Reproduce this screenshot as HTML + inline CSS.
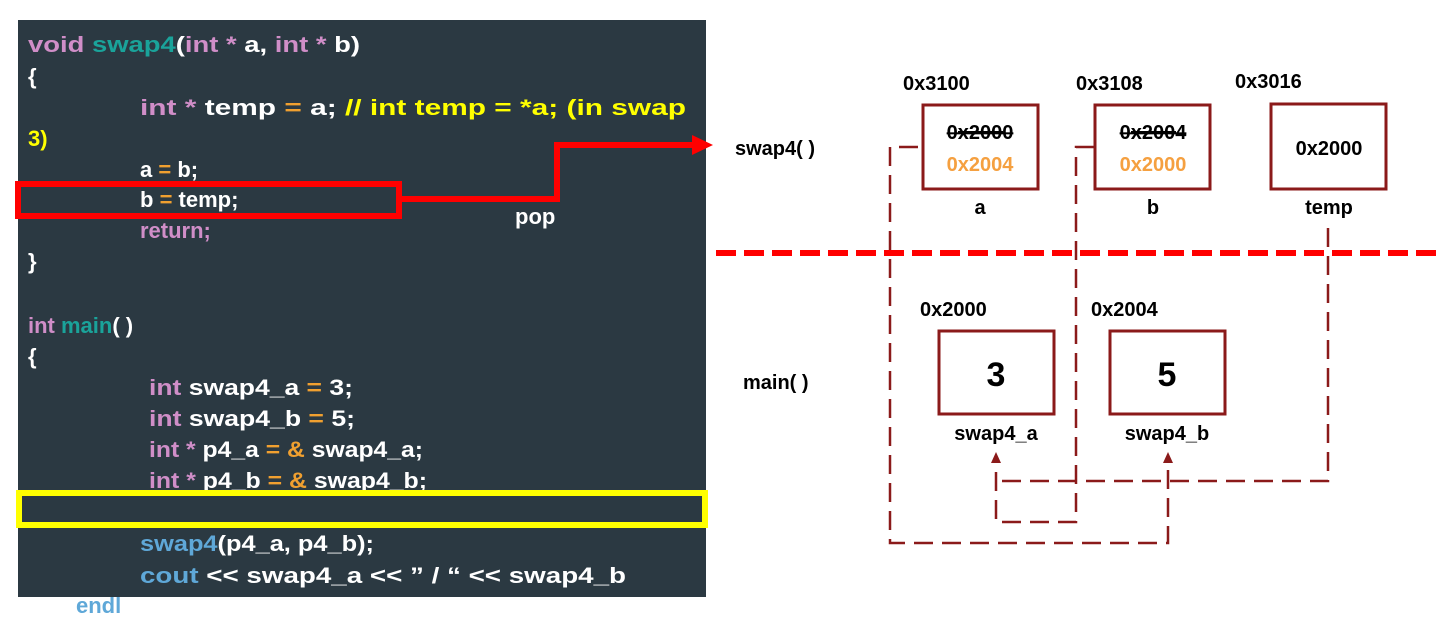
<!DOCTYPE html>
<html><head><meta charset="utf-8"><style>
html,body{margin:0;padding:0;background:#fff;}
svg{display:block;}
.c{font-family:"Liberation Sans","Noto Sans CJK KR",sans-serif;font-size:22px;font-weight:bold;}
.d{font-family:"Liberation Sans","Noto Sans CJK KR",sans-serif;font-weight:bold;fill:#000;}
</style></head><body>
<svg width="1443" height="621" viewBox="0 0 1443 621" xmlns="http://www.w3.org/2000/svg">
<rect x="18" y="20" width="688" height="577" fill="#2b3942"/>
<g class="c" fill="#fff">
<text x="28" y="52" textLength="332" lengthAdjust="spacingAndGlyphs"><tspan fill="#d08ec8">void </tspan><tspan fill="#1aa39a">swap4</tspan>(<tspan fill="#d08ec8">int * </tspan>a, <tspan fill="#d08ec8">int * </tspan>b)</text>
<text x="28" y="84">{</text>
<text x="140" y="115" textLength="546" lengthAdjust="spacingAndGlyphs"><tspan fill="#d08ec8">int * </tspan>temp <tspan fill="#f0a030">=</tspan> a;    <tspan fill="#ffff00">// int temp = *a; (in swap</tspan></text>
<text x="28" y="146" fill="#ffff00">3)</text>
<text x="140" y="177">a <tspan fill="#f0a030">=</tspan> b;</text>
<text x="140" y="207">b <tspan fill="#f0a030">=</tspan> temp;</text>
<text x="140" y="238" fill="#d08ec8">return;</text>
<text x="28" y="269">}</text>
<text x="28" y="333"><tspan fill="#d08ec8">int </tspan><tspan fill="#1aa39a">main</tspan>( )</text>
<text x="28" y="364">{</text>
<text x="149" y="395" textLength="204" lengthAdjust="spacingAndGlyphs"><tspan fill="#d08ec8">int </tspan>swap4_a <tspan fill="#f0a030">=</tspan> 3;</text>
<text x="149" y="426" textLength="206" lengthAdjust="spacingAndGlyphs"><tspan fill="#d08ec8">int </tspan>swap4_b <tspan fill="#f0a030">=</tspan> 5;</text>
<text x="149" y="457" textLength="274" lengthAdjust="spacingAndGlyphs"><tspan fill="#d08ec8">int * </tspan>p4_a <tspan fill="#f0a030">= &amp;</tspan> swap4_a;</text>
<text x="149" y="488" textLength="278" lengthAdjust="spacingAndGlyphs"><tspan fill="#d08ec8">int * </tspan>p4_b <tspan fill="#f0a030">= &amp;</tspan> swap4_b;</text>
<text x="140" y="551" textLength="234" lengthAdjust="spacingAndGlyphs"><tspan fill="#5fa8d8">swap4</tspan>(p4_a, p4_b);</text>
<text x="140" y="583" textLength="486" lengthAdjust="spacingAndGlyphs"><tspan fill="#5fa8d8">cout</tspan> &lt;&lt; swap4_a &lt;&lt; ” / “ &lt;&lt; swap4_b</text>
<text x="76" y="613" fill="#5fa8d8">endl</text>
</g>
<rect x="19" y="493" width="686" height="32" fill="none" stroke="#ffff00" stroke-width="6"/>
<rect x="18" y="184" width="381" height="32" fill="none" stroke="#ff0000" stroke-width="6"/>
<polyline points="399,199 557,199 557,145 693,145" fill="none" stroke="#ff0000" stroke-width="6"/>
<polygon points="692,135 713,145 692,155" fill="#ff0000"/>
<text x="515" y="224" class="c" fill="#fff" font-size="20">pop</text>

<line x1="716" y1="253" x2="1443" y2="253" stroke="#ff0000" stroke-width="6" stroke-dasharray="20,8"/>

<g fill="none" stroke="#8b1a1a" stroke-width="3">
<rect x="923" y="105" width="115" height="84"/>
<rect x="1095" y="105" width="115" height="84"/>
<rect x="1271" y="104" width="115" height="85"/>
<rect x="939" y="331" width="115" height="83"/>
<rect x="1110" y="331" width="115" height="83"/>
</g>
<g fill="none" stroke="#8b1a1a" stroke-width="2.5" stroke-dasharray="19,9">
<polyline points="918,147 890,147 890,543 1168,543 1168,462"/>
<polyline points="1094,147 1076,147 1076,522 996,522 996,462"/>
<polyline points="1328,228 1328,481 996,481"/>
</g>
<polygon points="996,452 991,463 1001,463" fill="#8b1a1a"/>
<polygon points="1168,452 1163,463 1173,463" fill="#8b1a1a"/>

<g class="d" font-size="20">
<text x="903" y="90">0x3100</text>
<text x="1076" y="90">0x3108</text>
<text x="1235" y="88">0x3016</text>
<text x="920" y="316">0x2000</text>
<text x="1091" y="316">0x2004</text>
<text x="735" y="155">swap4( )</text>
<text x="743" y="389">main( )</text>
<text x="980" y="214" text-anchor="middle">a</text>
<text x="1153" y="214" text-anchor="middle">b</text>
<text x="1329" y="214" text-anchor="middle">temp</text>
<text x="996" y="440" text-anchor="middle">swap4_a</text>
<text x="1167" y="440" text-anchor="middle">swap4_b</text>
<text x="980" y="139" text-anchor="middle" text-decoration="line-through">0x2000</text>
<text x="980" y="171" text-anchor="middle" fill="#f5a040" style="fill:#f5a040">0x2004</text>
<text x="1153" y="139" text-anchor="middle" text-decoration="line-through">0x2004</text>
<text x="1153" y="171" text-anchor="middle" style="fill:#f5a040">0x2000</text>
<text x="1329" y="155" text-anchor="middle">0x2000</text>
<text x="996" y="386" text-anchor="middle" font-size="34">3</text>
<text x="1167" y="386" text-anchor="middle" font-size="34">5</text>
</g>
<line x1="958" y1="132" x2="1003" y2="132" stroke="#000" stroke-width="2"/>
<line x1="1131" y1="132" x2="1176" y2="132" stroke="#000" stroke-width="2"/>
</svg>
</body></html>
